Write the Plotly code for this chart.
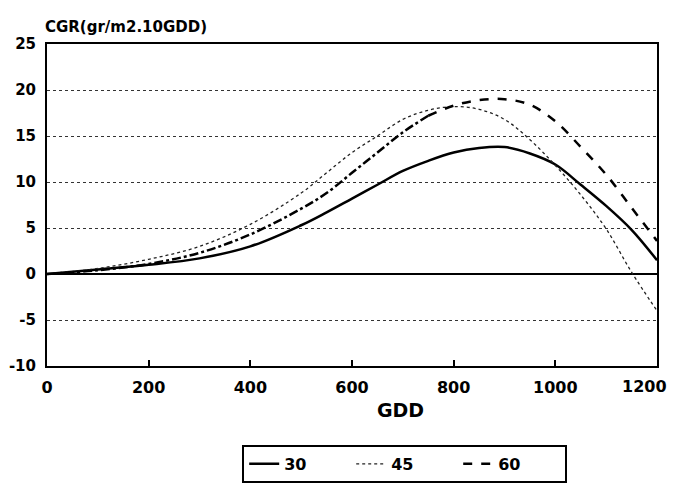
import plotly.graph_objects as go

gdd = [0, 100, 200, 300, 400, 500, 550, 600, 650, 700, 750, 800, 850, 900, 950, 1000, 1050, 1100, 1150, 1200]
cgr_30 = [0, 0.5, 1.0, 1.7, 3.0, 5.3, 6.7, 8.2, 9.7, 11.2, 12.3, 13.2, 13.7, 13.8, 13.1, 11.9, 9.7, 7.4, 4.8, 1.5]
cgr_45 = [0, 0.6, 1.6, 3.0, 5.4, 8.8, 11.0, 13.2, 15.0, 16.8, 17.8, 18.2, 17.9, 16.8, 14.6, 11.8, 8.6, 4.9, 0.2, -4.0]
cgr_60 = [0, 0.4, 1.1, 2.3, 4.3, 7.1, 8.8, 11.0, 13.2, 15.4, 17.2, 18.3, 18.9, 19.0, 18.4, 16.6, 13.8, 10.8, 7.2, 3.6]
series_names = ["30", "45", "60"]
x_ticks = [0, 200, 400, 600, 800, 1000, 1200]
x_ticklabels = ["0", "200", "400", "600", "800", "1000", "1200"]
y_ticks = [-10, -5, 0, 5, 10, 15, 20, 25]
y_ticklabels = ["-10", "-5", "0", "5", "10", "15", "20", "25"]

FONT = "DejaVu Sans"
split = gdd.index(750)

fig = go.Figure()
fig.add_trace(go.Scatter(x=gdd, y=cgr_30, name=series_names[0], mode="lines",
                         line=dict(color="black", width=2.5, shape="spline")))
fig.add_trace(go.Scatter(x=gdd, y=cgr_45, name=series_names[1], mode="lines",
                         line=dict(color="#222222", width=1.3, dash="dot", shape="spline")))
fig.add_trace(go.Scatter(x=gdd[:split + 1], y=cgr_60[:split + 1], name=series_names[2], mode="lines",
                         showlegend=False,
                         line=dict(color="black", width=2.5, dash="dashdot", shape="spline")))
fig.add_trace(go.Scatter(x=gdd[split:], y=cgr_60[split:], name=series_names[2], mode="lines",
                         line=dict(color="black", width=2.5, dash="dash", shape="spline")))

# all x tick labels except the last one come from the axis; the last is nudged left
annotations = [
    dict(text="CGR(gr/m2.10GDD)", xref="paper", yref="paper", x=0, y=1,
         xanchor="left", yanchor="bottom", xshift=-4, yshift=6, showarrow=False,
         font=dict(size=15, family=FONT, weight="bold")),
    dict(text="GDD", xref="paper", yref="paper", x=(400 - 47) / 610, y=0,
         xanchor="center", yanchor="middle", yshift=-44, showarrow=False,
         font=dict(size=19, family=FONT, weight="bold")),
    dict(text=x_ticklabels[-1], xref="x", yref="paper", x=x_ticks[-1], y=0,
         xanchor="center", yanchor="middle", xshift=-13, yshift=-20, showarrow=False,
         font=dict(size=16, family=FONT, weight="bold")),
]

fig.update_layout(
    width=673, height=495,
    margin=dict(l=47, r=16, t=44, b=129),
    plot_bgcolor="white", paper_bgcolor="white",
    font=dict(family=FONT, color="black", size=15, weight="bold"),
    xaxis=dict(range=[0, 1200], tickvals=x_ticks[:-1], ticktext=x_ticklabels[:-1],
               ticks="inside", ticklen=6, tickwidth=1.5,
               tickcolor="black", showgrid=False, zeroline=False, automargin=False,
               showline=True, linecolor="black", linewidth=2, mirror=True,
               ticklabelstandoff=6,
               tickfont=dict(size=16, family=FONT, weight="bold")),
    yaxis=dict(range=[-10, 25], tickvals=y_ticks, ticktext=y_ticklabels, ticks="",
               showgrid=True, gridcolor="#333333", gridwidth=1, griddash="dot",
               zeroline=True, zerolinecolor="black", zerolinewidth=2, automargin=False,
               showline=True, linecolor="black", linewidth=2, mirror=True,
               ticklabelstandoff=6,
               tickfont=dict(size=15, family=FONT, weight="bold")),
    showlegend=True,
    legend=dict(orientation="h", x=0.32, xanchor="left", y=-0.245, yanchor="top",
                bordercolor="black", borderwidth=2, bgcolor="white",
                entrywidth=62, font=dict(size=16, family=FONT, weight="bold")),
    annotations=annotations,
)

fig.write_html("out.html", config={"displayModeBar": False},
               post_script="document.body.style.margin='0';document.body.style.overflow='hidden';")
